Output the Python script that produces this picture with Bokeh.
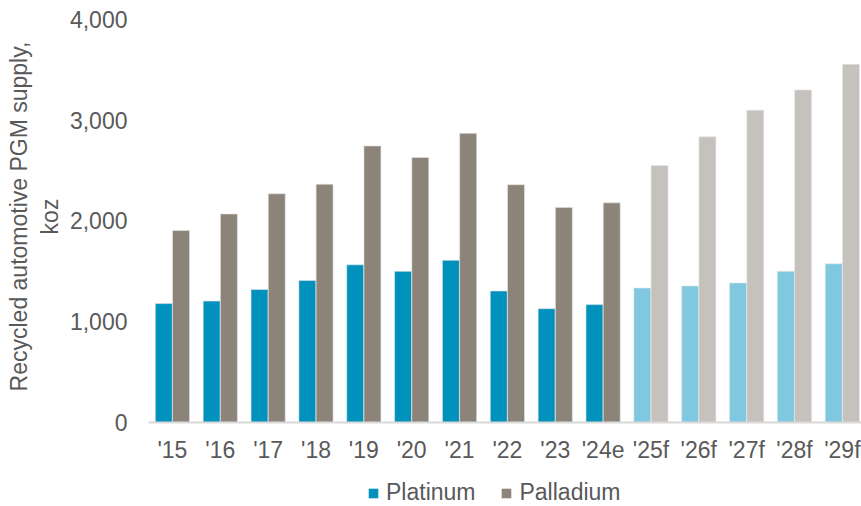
import numpy as np
from bokeh.plotting import figure
from bokeh.layouts import column
from bokeh.models import ColumnDataSource, Range1d, FixedTicker, Legend, LegendItem
from bokeh.embed import file_html
from bokeh.resources import INLINE

categories = ["'15", "'16", "'17", "'18", "'19", "'20", "'21", "'22", "'23", "'24e",
              "'25f", "'26f", "'27f", "'28f", "'29f"]
platinum = [1180, 1205, 1320, 1410, 1565, 1500, 1610, 1305, 1130, 1170,
            1335, 1355, 1385, 1500, 1575]
palladium = [1905, 2070, 2270, 2365, 2745, 2630, 2870, 2360, 2135, 2180,
             2550, 2835, 3100, 3300, 3555]
y_ticks = [0, 1000, 2000, 3000, 4000]
series_names = ["Platinum", "Palladium"]

PT_DARK, PT_LIGHT = "#0091BD", "#80C8DF"
PD_DARK, PD_LIGHT = "#8C8479", "#C5C2BD"
FONT = "Liberation Sans"
TXT = "#595959"
FS = "23px"
FRAME_LEFT = 148

x = np.arange(len(categories))
forecast = [c.endswith("f") for c in categories]
src = ColumnDataSource(dict(
    x_pt=x - 0.18, x_pd=x + 0.18,
    pt=platinum, pd=palladium,
    pt_color=[PT_LIGHT if f else PT_DARK for f in forecast],
    pd_color=[PD_LIGHT if f else PD_DARK for f in forecast],
))

p = figure(width=861, height=470, output_backend="svg", toolbar_location=None,
           x_range=Range1d(-0.5, 14.4), y_range=Range1d(0, 4089),
           min_border_left=FRAME_LEFT, min_border_right=0, min_border_top=10,
           min_border_bottom=48)
p.outline_line_color = None
p.xgrid.grid_line_color = None
p.ygrid.grid_line_color = None

p.vbar(x="x_pt", top="pt", width=0.355, source=src,
       fill_color="pt_color", line_color="#E6E6E6", line_width=0.6)
p.vbar(x="x_pd", top="pd", width=0.355, source=src,
       fill_color="pd_color", line_color="#E6E6E6", line_width=0.6)

# axes
p.xaxis.ticker = FixedTicker(ticks=list(x))
p.xaxis.major_label_overrides = {int(i): c for i, c in zip(x, categories)}
p.xaxis.axis_line_color = "#D9D9D9"
p.xaxis.axis_line_width = 2
p.xaxis.major_tick_line_color = None
p.xaxis.minor_tick_line_color = None
p.xaxis.major_tick_out = 0
p.xaxis.major_tick_in = 0
p.xaxis.minor_tick_out = 0
p.xaxis.major_label_standoff = 14
p.xaxis.major_label_text_font = FONT
p.xaxis.major_label_text_font_size = FS
p.xaxis.major_label_text_color = TXT

p.yaxis.ticker = FixedTicker(ticks=y_ticks)
p.yaxis.major_label_overrides = {t: f"{t:,}" for t in y_ticks}
p.yaxis.axis_line_color = None
p.yaxis.major_tick_line_color = None
p.yaxis.minor_tick_line_color = None
p.yaxis.major_tick_out = 0
p.yaxis.major_tick_in = 0
p.yaxis.minor_tick_out = 0
p.yaxis.major_label_standoff = 21
p.yaxis.major_label_text_font = FONT
p.yaxis.major_label_text_font_size = FS
p.yaxis.major_label_text_color = TXT
p.yaxis.axis_label = "Recycled automotive PGM supply,\nkoz"
p.yaxis.axis_label_text_font = FONT
p.yaxis.axis_label_text_font_size = FS
p.yaxis.axis_label_text_font_style = "normal"
p.yaxis.axis_label_text_color = TXT
p.yaxis.axis_label_standoff = 4

# legend strip below the chart
lg = figure(width=861, height=36, output_backend="svg", toolbar_location=None,
            x_range=Range1d(0, 1), y_range=Range1d(0, 1),
            min_border_left=0, min_border_right=0, min_border_top=0,
            min_border_bottom=0)
lg.outline_line_color = None
lg.axis.visible = False
lg.grid.visible = False
proxy_pt = lg.vbar(x=[0.5], top=[1], width=0.1, fill_color=PT_DARK, line_color=None, visible=False)
proxy_pd = lg.vbar(x=[0.5], top=[1], width=0.1, fill_color=PD_DARK, line_color=None, visible=False)
legend = Legend(items=[LegendItem(label=series_names[0], renderers=[proxy_pt]),
                       LegendItem(label=series_names[1], renderers=[proxy_pd])],
                orientation="horizontal", location=(367 - FRAME_LEFT, 0),
                glyph_width=12, glyph_height=12, label_standoff=7, spacing=25,
                padding=0, margin=0, border_line_color=None,
                background_fill_alpha=0,
                label_text_font=FONT, label_text_font_size=FS,
                label_text_color=TXT)
lg.add_layout(legend, "center")

layout = column(p, lg, spacing=0)
open("out.html", "w").write(file_html(layout, INLINE))
